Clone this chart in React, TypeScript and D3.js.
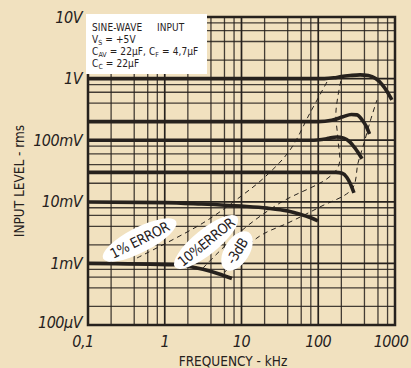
import React from 'react';
import * as d3 from 'd3';

const width = 411;
const height = 368;
const plot = { left: 88, right: 395, top: 17, bottom: 325 };

const bg = '#f1e1bf';
const ink = '#26211d';
const font = "'DejaVu Sans Condensed', 'DejaVu Sans', sans-serif";

// axes
const xTicks = [0.1, 1, 10, 100, 1000];
const xTickLabels = ['0,1', '1', '10', '100', '1000'];
const yTicks = [1e-4, 1e-3, 1e-2, 0.1, 1, 10];
const yTickLabels = ['100µV', '1mV', '10mV', '100mV', '1V', '10V'];
const gridMultiples = [2, 4, 6, 8];

// input level curves, [kHz, V rms]
const curve1V = [[0.1, 1.0], [120, 1.0], [160, 1.03], [200, 1.08], [260, 1.12], [350, 1.15], [450, 1.12], [560, 1.0], [680, 0.8], [800, 0.6], [910, 0.45]];
const curve200mV = [[0.1, 0.2], [100, 0.2], [150, 0.21], [210, 0.24], [270, 0.262], [320, 0.258], [372, 0.215], [430, 0.16], [465, 0.126]];
const curve100mV = [[0.1, 0.1], [80, 0.1], [130, 0.106], [175, 0.113], [215, 0.108], [255, 0.095], [300, 0.075], [372, 0.05]];
const curve30mV = [[0.1, 0.03], [170, 0.03], [205, 0.029], [235, 0.025], [260, 0.02], [292, 0.014]];
const curve10mV = [[0.1, 0.0099], [1, 0.0097], [3, 0.0092], [10, 0.0085], [21.5, 0.0079], [40, 0.0071], [58, 0.0063], [80, 0.0055], [99, 0.0049]];
const curve1mV = [[0.1, 0.001], [1.4, 0.00095], [2.2, 0.00088], [3.15, 0.0008], [5, 0.00068], [7.5, 0.00057]];
const curves = [curve1V, curve200mV, curve100mV, curve30mV, curve10mV, curve1mV];

// dashed error contours
const error1 = [[0.435, 0.001225], [3.15, 0.00453], [9.56, 0.01197], [20.2, 0.0253], [42.9, 0.0693], [78.1, 0.2765], [134, 0.948]];
const error10 = [[3.15, 0.000842], [9.56, 0.003236], [31.7, 0.00957], [134, 0.02433], [186, 0.0396], [181, 0.1008], [170, 0.287], [198, 0.948]];
const minus3dB = [[6.1, 0.000725], [15.9, 0.002584], [42.9, 0.0047], [105, 0.00824], [275, 0.01614], [330, 0.04266], [395, 0.0901], [472, 0.1974], [582, 0.45]];
const contours = [error1, error10, minus3dB];

// bubble labels: [kHz, V, text, angle, rx]
const bubbles = [
  [0.47, 0.0024, '1% ERROR', -27, 41],
  [3.45, 0.00223, '10%ERROR', -39, 40],
  [8.74, 0.00159, '-3dB', -58, 22],
];

const App = () => {
  const x = d3.scaleLog().domain([0.1, 1000]).range([plot.left, plot.right]);
  const y = d3.scaleLog().domain([1e-4, 10]).range([plot.bottom, plot.top]);

  const curveLine = d3.line<number[]>()
    .x(d => x(d[0]))
    .y(d => y(d[1]))
    .curve(d3.curveMonotoneX);

  const dashLine = d3.line<number[]>()
    .x(d => x(d[0]))
    .y(d => y(d[1]))
    .curve(d3.curveCatmullRom.alpha(0.5));

  const xGrid: number[] = [];
  xTicks.slice(0, -1).forEach(t => gridMultiples.forEach(m => xGrid.push(t * m)));
  const yGrid: number[] = [];
  yTicks.slice(0, -1).forEach(t => gridMultiples.forEach(m => yGrid.push(t * m)));

  return (
    <svg width={width} height={height} style={{ position: 'absolute', left: 0, top: 0 }} fontFamily={font}>
      <rect width={width} height={height} fill={bg} />

      {/* grid */}
      <g stroke={ink}>
        {xGrid.map((v, i) => (
          <line key={'xg' + i} x1={x(v)} x2={x(v)} y1={plot.top} y2={plot.bottom} strokeWidth={1.3} opacity={0.85} />
        ))}
        {yGrid.map((v, i) => (
          <line key={'yg' + i} y1={y(v)} y2={y(v)} x1={plot.left} x2={plot.right} strokeWidth={1.3} opacity={0.85} />
        ))}
        {xTicks.map((v, i) => (
          <line key={'xm' + i} x1={x(v)} x2={x(v)} y1={plot.top} y2={plot.bottom} strokeWidth={1.7} />
        ))}
        {yTicks.map((v, i) => (
          <line key={'ym' + i} y1={y(v)} y2={y(v)} x1={plot.left} x2={plot.right} strokeWidth={1.7} />
        ))}
      </g>
      <rect x={plot.left} y={plot.top} width={plot.right - plot.left} height={plot.bottom - plot.top}
        fill="none" stroke={ink} strokeWidth={2.5} />

      {/* info box */}
      <rect x={86} y={14} width={121} height={60} fill="#fff" />
      <g fontSize={10} fill={ink} letterSpacing={0.1}>
        <text x={92} y={31}>SINE-WAVE{'\u00a0\u00a0\u00a0\u00a0\u00a0'}INPUT</text>
        <text x={92} y={43}>V<tspan fontSize={7} dy={1.5}>S</tspan><tspan dy={-1.5}> = +5V</tspan></text>
        <text x={92} y={55}>C<tspan fontSize={7} dy={1.5}>AV</tspan><tspan dy={-1.5}> = 22µF, C</tspan><tspan fontSize={7} dy={1.5}>F</tspan><tspan dy={-1.5}> = 4,7µF</tspan></text>
        <text x={92} y={67}>C<tspan fontSize={7} dy={1.5}>C</tspan><tspan dy={-1.5}> = 22µF</tspan></text>
      </g>

      {/* contours */}
      {contours.map((c, i) => (
        <path key={'c' + i} d={dashLine(c) || ''} fill="none" stroke={ink} strokeWidth={1} strokeDasharray="5 4" />
      ))}

      {/* curves */}
      {curves.map((c, i) => (
        <path key={'k' + i} d={curveLine(c) || ''} fill="none" stroke={ink} strokeWidth={3.6} strokeLinecap="butt" />
      ))}

      {/* bubble labels */}
      {bubbles.map((b, i) => {
        const cx = x(b[0] as number);
        const cy = y(b[1] as number);
        return (
          <g key={'b' + i} transform={`translate(${cx},${cy}) rotate(${b[3]})`}>
            <ellipse rx={b[4] as number} ry={12.5} fill="#fff" />
            <text textAnchor="middle" dy="0.36em" fontSize={14} fill={ink} letterSpacing={-0.5}>{b[2]}</text>
          </g>
        );
      })}

      {/* tick labels */}
      <g fill={ink} fontSize={16} fontStyle="italic" letterSpacing={-0.5}>
        {yTicks.map((v, i) => (
          <text key={'yl' + i} x={82} y={y(v) - (i === 0 ? 3 : 0)} dy="0.35em" textAnchor="end">{yTickLabels[i]}</text>
        ))}
        {xTicks.map((v, i) => (
          <text key={'xl' + i} x={x(v) + (i === 0 ? -5 : i === xTicks.length - 1 ? -4 : 0)} y={347}
            textAnchor="middle">{xTickLabels[i]}</text>
        ))}
      </g>

      <text x={233} y={366} textAnchor="middle" fontSize={13.5} fill={ink}>FREQUENCY - kHz</text>
      <text transform="translate(24,181) rotate(-90)" textAnchor="middle" fontSize={13.5} fill={ink}>INPUT LEVEL - rms</text>
    </svg>
  );
};

export default App;
